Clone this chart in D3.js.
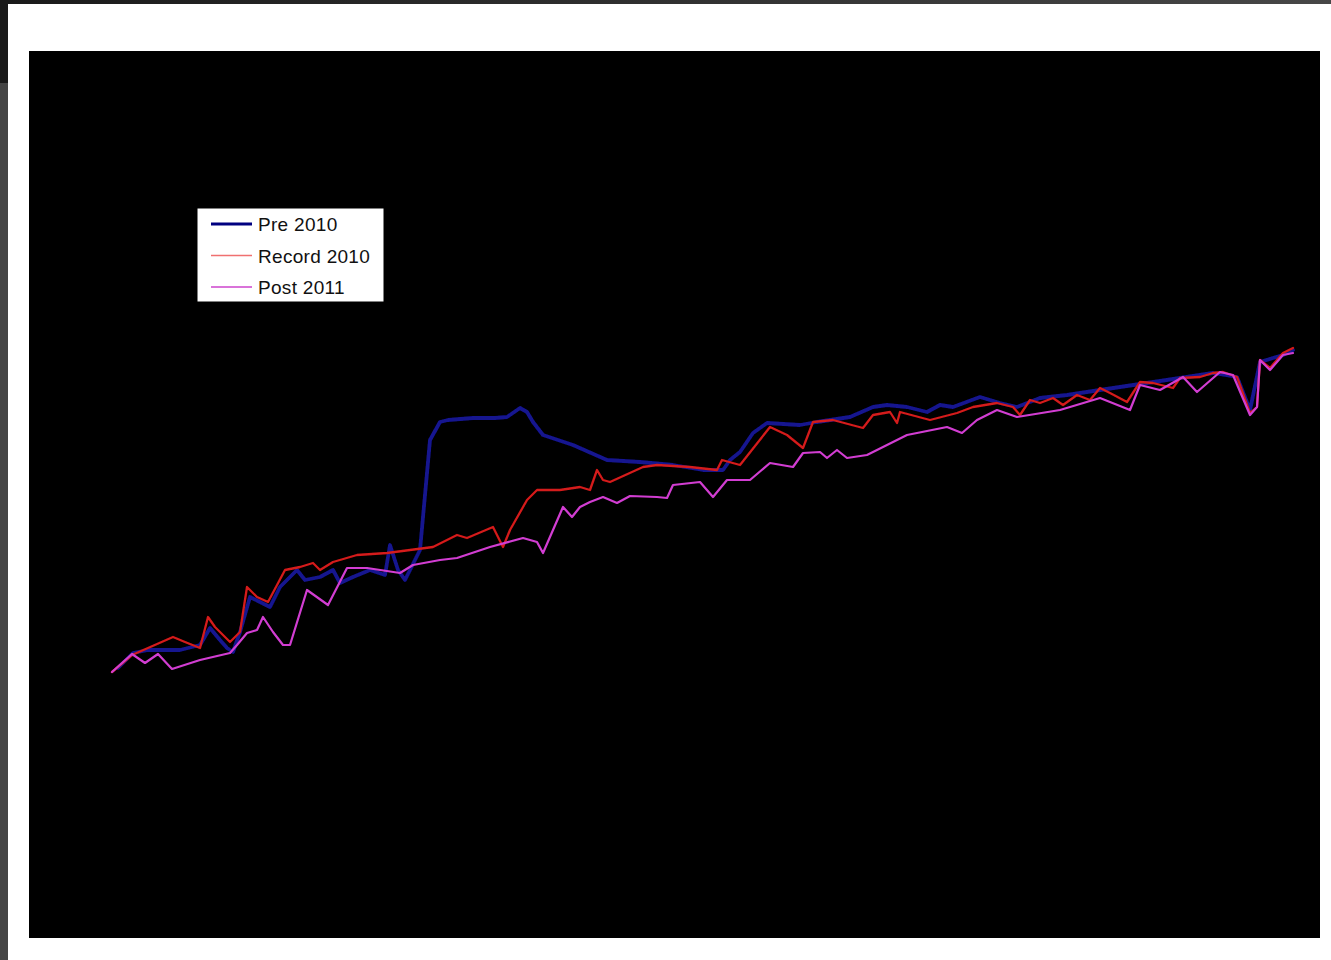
<!DOCTYPE html>
<html>
<head>
<meta charset="utf-8">
<script src="https://cdn.jsdelivr.net/npm/d3@7"></script>
<style>
  html, body { margin: 0; padding: 0; background: #fff; }
  svg { display: block; }
</style>
</head>
<body>
<svg id="chart" width="1331" height="960"></svg>
<script>
// series values, [x, y] in arbitrary chart units
var pre2010 = [[6,232],[21,247],[36,250],[68,250],[88,255],[98,272],[108,260],[115,252],[121,248],[128,268],
  [138,303],[148,298],[158,293],[168,313],[185,330],[193,320],[208,323],[221,330],[228,317],[241,323],
  [258,330],[273,325],[278,355],[286,330],[293,320],[303,340],[308,350],[311,383],[318,460],[328,478],
  [336,480],[361,482],[383,482],[395,483],[408,492],[415,488],[421,478],[431,465],[461,455],[495,440],
  [528,438],[561,435],[591,430],[611,430],[618,440],[628,448],[641,467],[655,477],[688,475],[705,478],
  [738,483],[761,493],[775,495],[795,493],[815,488],[828,495],[841,493],[868,503],[888,497],[905,493],[928,502],
  [955,505],[988,510],[1028,516],[1068,522],[1101,527],[1125,523],[1138,490],[1148,538],[1171,545],[1181,550]];

var record2010 = [[0,228],[20,245],[36,252],[61,263],[73,258],[88,252],[96,283],[103,273],[118,258],[128,268],
  [135,313],[145,303],[156,298],[173,330],[188,333],[201,337],[208,330],[221,338],[245,345],[275,347],
  [298,350],[321,353],[345,365],[355,362],[381,373],[391,353],[398,370],[415,400],[425,410],[448,410],
  [468,413],[478,410],[485,430],[491,420],[498,418],[531,433],[545,435],[578,433],[605,430],[610,440],
  [628,435],[658,473],[675,465],[691,452],[701,478],[721,480],[751,472],[761,485],[778,488],[785,477],
  [788,488],[818,480],[845,487],[861,493],[885,497],[901,493],[908,485],[918,500],[928,497],[941,502],
  [951,495],[965,505],[978,500],[988,512],[998,507],[1015,498],[1028,518],[1041,517],[1061,512],[1068,522],
  [1088,523],[1101,527],[1111,528],[1125,523],[1138,487],[1145,493],[1148,540],[1158,532],[1171,547],[1181,552]];

var post2011 = [[0,228],[20,246],[33,237],[46,246],[60,231],[88,240],[118,247],[125,255],[135,267],[145,270],
  [151,283],[161,268],[171,255],[178,255],[195,310],[216,295],[235,332],[255,332],[288,327],[301,335],
  [328,340],[345,342],[378,353],[411,362],[425,358],[431,347],[441,370],[451,393],[460,383],[468,393],
  [478,398],[491,403],[505,397],[518,404],[545,403],[555,402],[561,415],[588,418],[601,403],[615,420],
  [638,420],[658,437],[681,433],[691,447],[708,448],[715,442],[725,450],[735,442],[755,445],[795,465],
  [835,473],[850,467],[865,480],[885,490],[905,483],[948,490],[988,502],[1018,490],
  [1028,515],[1048,510],[1071,523],[1085,508],[1108,528],[1121,525],[1138,485],[1145,493],[1148,540],
  [1158,530],[1171,545],[1181,547]];

var seriesNames = ["Pre 2010", "Record 2010", "Post 2011"];
var seriesData = [pre2010, record2010, post2011];
var lineColors = ["#14148f", "#d41a1a", "#d23ed2"];
var legendColors = ["#000080", "#f07070", "#cc44cc"];
var lineWidths = [3.8, 2.3, 2.2];

var svg = d3.select("#chart");

// ==================== page frame ====================
var defs = svg.append("defs");
var grad = defs.append("linearGradient").attr("id", "topbar");
grad.append("stop").attr("offset", "0%").attr("stop-color", "#1a1a1a");
grad.append("stop").attr("offset", "100%").attr("stop-color", "#474747");

// slight softening, the original is a compressed screenshot
defs.append("filter").attr("id", "soft")
    .attr("x", "-5%").attr("y", "-5%").attr("width", "110%").attr("height", "110%")
  .append("feGaussianBlur").attr("stdDeviation", 0.6);

svg.append("rect").attr("x", 0).attr("y", 0).attr("width", 1331).attr("height", 4).attr("fill", "url(#topbar)");
svg.append("rect").attr("x", 0).attr("y", 0).attr("width", 8).attr("height", 83).attr("fill", "#1a1a1a");
svg.append("rect").attr("x", 0).attr("y", 83).attr("width", 8).attr("height", 877).attr("fill", "#454545");

// plot area
svg.append("rect").attr("x", 29).attr("y", 51).attr("width", 1291).attr("height", 887).attr("fill", "#000");

// ==================== scales ====================
var x = d3.scaleLinear().domain([0, 1183]).range([112, 1295]);
var y = d3.scaleLinear().domain([0, 600]).range([900, 300]);

var line = d3.line()
    .x(function(d) { return x(d[0]); })
    .y(function(d) { return y(d[1]); });

// ==================== lines ====================
svg.append("g")
    .attr("filter", "url(#soft)")
  .selectAll(".series")
    .data(seriesData)
    .enter()
    .append("path")
        .attr("class", "series")
        .attr("d", line)
        .attr("fill", "none")
        .attr("stroke", function(d, i) { return lineColors[i]; })
        .attr("stroke-width", function(d, i) { return lineWidths[i]; })
        .attr("stroke-linejoin", "round")
        .attr("stroke-linecap", "round");

// ==================== legend ====================
var legend = svg.append("g").attr("transform", "translate(197,208)");
legend.append("rect")
    .attr("x", 0).attr("y", 0)
    .attr("width", 187).attr("height", 94)
    .attr("fill", "#fff")
    .attr("stroke", "#000")
    .attr("stroke-width", 1);

var items = legend.selectAll(".item")
    .data(seriesNames)
    .enter()
    .append("g")
        .attr("class", "item")
        .attr("transform", function(d, i) { return "translate(0," + (16 + i * 31.5) + ")"; });

items.append("line")
    .attr("x1", 14).attr("x2", 55)
    .attr("y1", 0).attr("y2", 0)
    .attr("stroke", function(d, i) { return legendColors[i]; })
    .attr("stroke-width", function(d, i) { return i === 0 ? 3 : 1.5; });

items.append("text")
    .attr("x", 61)
    .attr("y", 7)
    .attr("font-family", "Liberation Sans, Arial, sans-serif")
    .attr("font-size", 19)
    .attr("letter-spacing", 0.3)
    .attr("fill", "#111")
    .text(function(d) { return d; });
</script>
</body>
</html>
